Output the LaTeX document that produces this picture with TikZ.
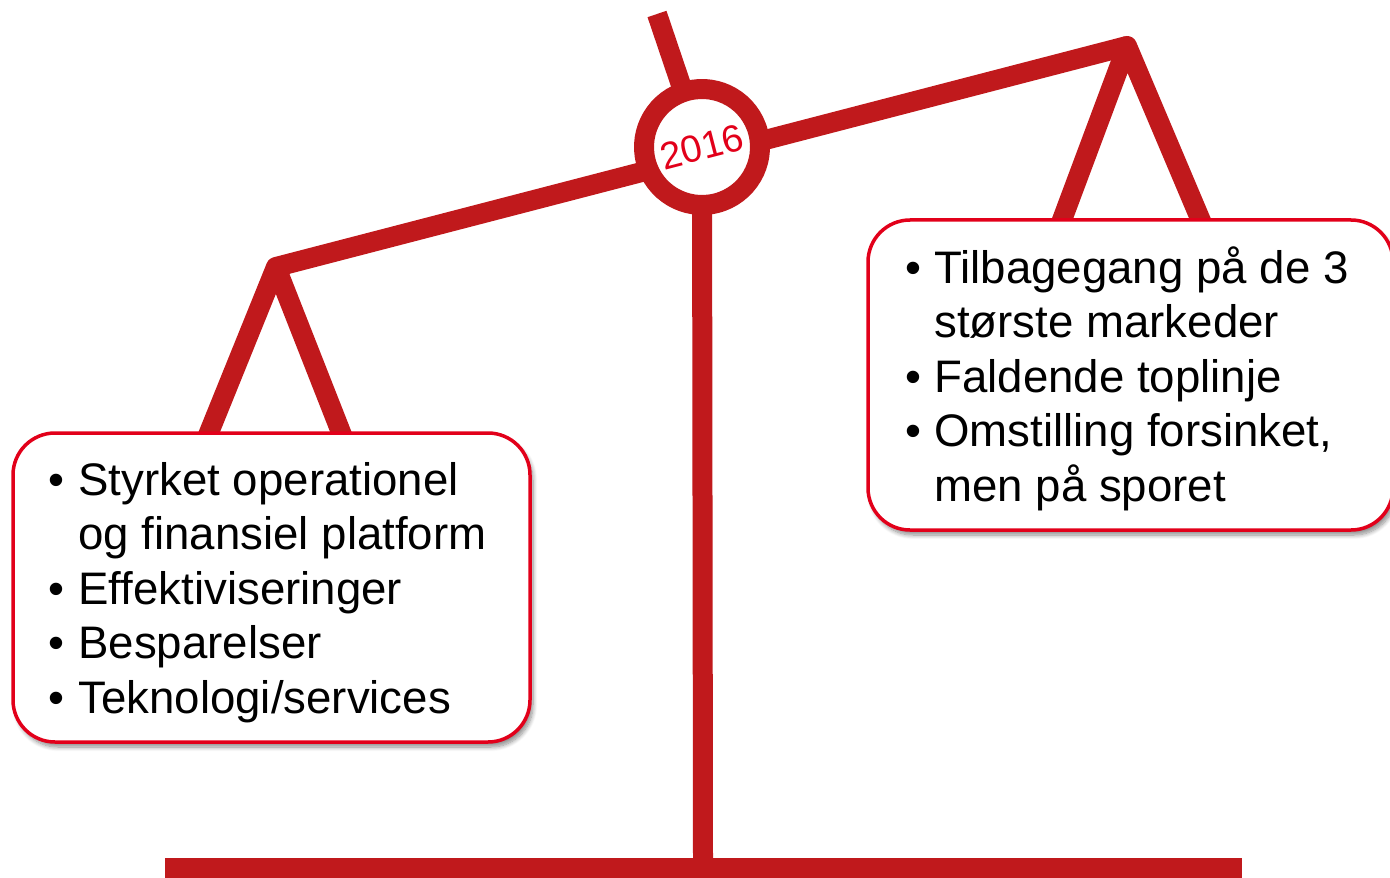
\documentclass[tikz,border=0pt]{standalone}
\usepackage{fontspec}
\setmainfont{Liberation Sans}
\usetikzlibrary{shadows.blur}
\definecolor{scalered}{HTML}{C0191C}
\definecolor{boxred}{HTML}{E2001A}
\begin{document}
\begin{tikzpicture}[x=0.5pt,y=-0.5pt,
  scaleline/.style={draw=scalered, line width=10pt, line join=round},
  panel/.style={draw=boxred, line width=1.75pt, fill=white, rounded corners=21pt, inner sep=0pt,
    blur shadow={shadow xshift=1.5pt, shadow yshift=-2.5pt, shadow blur steps=8, shadow opacity=45}},
  bullets/.style={inner sep=0pt, anchor=base west, font=\fontsize{22.8}{27.25}\selectfont}]
\clip (0,0) rectangle (1390,877);
% key points
\coordinate (stickTop) at (657,14);
\coordinate (hubc) at (702,147);
\coordinate (la) at (276,267);
\coordinate (ra) at (1127,46);
\coordinate (ll) at (206,440);
\coordinate (lr) at (344,440);
\coordinate (rl) at (1059,228);
\coordinate (rr) at (1204,228);
\coordinate (postFoot) at (703,862);
% base bar
\fill[scalered] (165,858) rectangle (1242,885);
% stick, beam, post
\draw[scaleline] (stickTop) -- (hubc);
\draw[scaleline] (la) -- (ra);
\draw[scaleline] (hubc) -- (postFoot);
% hub ring
\node (hub) [circle, minimum size=58pt, inner sep=0pt, fill=white, draw=scalered, line width=10pt,
  rotate=14.5, text=boxred, font=\fontsize{19}{20}\selectfont] at (hubc) {2016};
% hangers
\draw[scaleline] (ll) -- (la) -- (lr);
\draw[scaleline] (rl) -- (ra) -- (rr);
% boxes
\node (leftbox) [panel, minimum width=258.5pt, minimum height=154.5pt] at (271.5,587.5) {};
\node (rightbox) [panel, minimum width=262.5pt, minimum height=155pt] at (1130.5,375) {};
\node (lefttext) [bullets] at (48,495) {\begin{tabular}[t]{@{}p{15pt}@{}l@{}}
• & Styrket operationel\\
  & og finansiel platform\\
• & Effektiviseringer\\
• & Besparelser\\
• & Teknologi/services
\end{tabular}};
\node (righttext) [bullets] at (905,283) {\begin{tabular}[t]{@{}p{14.5pt}@{}l@{}}
• & Tilbagegang på de 3\\
  & største markeder\\
• & Faldende toplinje\\
• & Omstilling forsinket,\\
  & men på sporet
\end{tabular}};
\end{tikzpicture}
\end{document}
